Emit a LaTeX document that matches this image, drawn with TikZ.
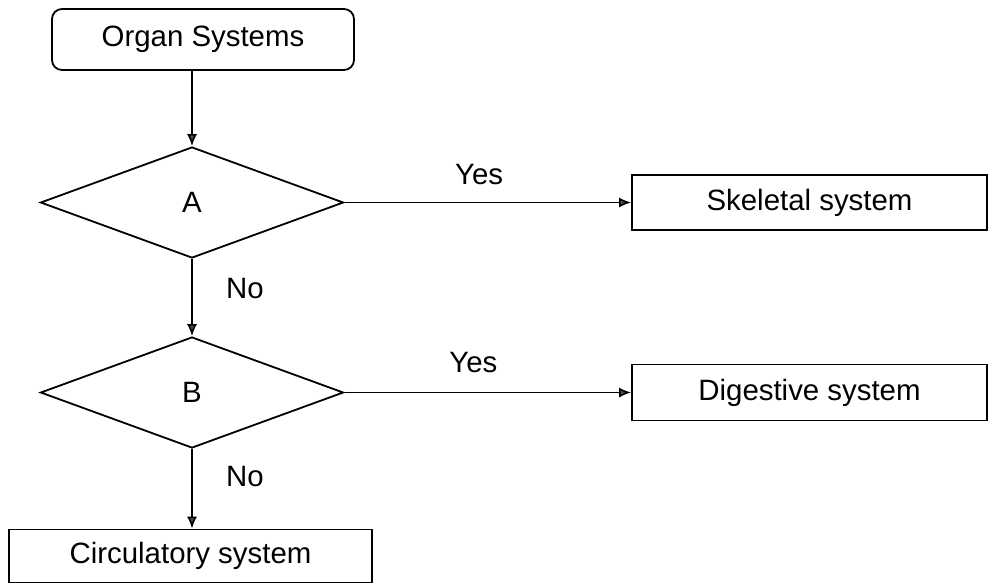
\documentclass[tikz,border=0pt]{standalone}
\usepackage{fontspec}
\setmainfont{Liberation Sans}
\usetikzlibrary{arrows.meta,shapes.geometric}

\begin{document}
\begin{tikzpicture}[x=0.5pt, y=-0.5pt,
    font=\fontsize{14.7}{17}\selectfont,
    process/.style={rectangle, draw, line width=0.9pt, inner sep=0pt},
    decision/.style={diamond, draw, line width=0.9pt, inner sep=0pt,
      minimum width=151.5pt, minimum height=55.5pt},
    arr/.style={line width=0.8pt, -{Latex[length=6pt,width=5pt,fill=black!70]}},
    lbl/.style={inner sep=0pt}]
  \useasboundingbox (0,0) rectangle (988,584);

  \node[process, rounded corners=5pt, minimum width=151pt, minimum height=30.5pt] (org) at (203,39.5) {Organ Systems};
  \node[decision] (A) at (192,202.5) {A};
  \node[decision] (B) at (192,392.5) {B};
  \node[process, minimum width=177.5pt, minimum height=27.5pt] (skel) at (809.5,202.5) {Skeletal system};
  \node[process, minimum width=177.5pt, minimum height=28pt] (dig) at (809.5,392.5) {Digestive system};
  \node[process, minimum width=181.5pt, minimum height=26.5pt] (circ) at (190.5,556) {Circulatory system};

  \draw[arr] (A |- org.south) -- (A.north);
  \draw[arr] (A.east) -- node[lbl, pos=0.47, yshift=14pt] (yesA) {Yes} (skel.west);
  \draw[arr] (A.south) -- node[lbl, pos=0.39, xshift=26.5pt] (noA) {No} (B.north);
  \draw[arr] (B.east) -- node[lbl, pos=0.45, yshift=15pt] (yesB) {Yes} (dig.west);
  \draw[arr] (B.south) -- node[lbl, pos=0.35, xshift=26.5pt] (noB) {No} (circ.north -| B);
\end{tikzpicture}
\end{document}
